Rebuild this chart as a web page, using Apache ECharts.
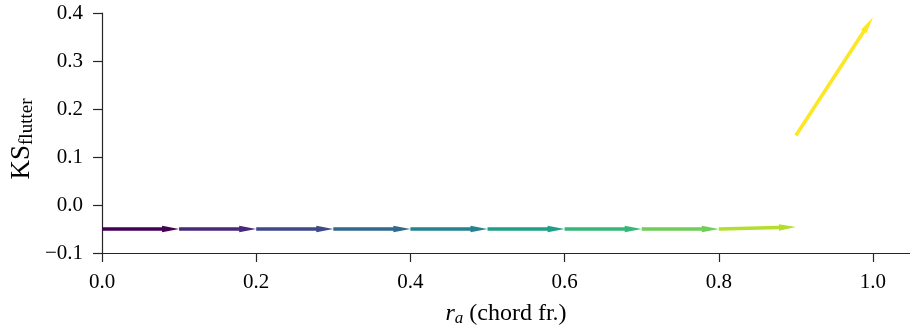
<!DOCTYPE html>
<html>
<head>
<meta charset="utf-8">
<script src="https://cdn.jsdelivr.net/npm/echarts@6/dist/echarts.min.js"></script>
<style>
html,body{margin:0;padding:0;background:#fff;}
#chart{width:910px;height:334px;}
</style>
</head>
<body>
<div id="chart"></div>
<script>
// Arrow (quiver) data
var arrowX = [0.0, 0.1, 0.2, 0.3, 0.4, 0.5, 0.6, 0.7, 0.8, 0.9];
var arrowY = [-0.05, -0.05, -0.05, -0.05, -0.05, -0.05, -0.05, -0.05, -0.05, 0.145];
var arrowU = [0.1, 0.1, 0.1, 0.1, 0.1, 0.1, 0.1, 0.1, 0.1, 0.1];
var arrowV = [0, 0, 0, 0, 0, 0, 0, 0, 0.004, 0.246];
var arrowColors = ['#440154', '#482878', '#3e4989', '#31688e', '#26828e',
                   '#1f9e89', '#35b779', '#6ece58', '#b5de2b', '#fde725'];
var xTicks = [0, 0.2, 0.4, 0.6, 0.8, 1.0];
var yTicks = [-0.1, 0, 0.1, 0.2, 0.3, 0.4];

var data = arrowX.map(function (x, i) {
  return [x, arrowY[i], arrowU[i], arrowV[i], i];
});

var chart = echarts.init(document.getElementById('chart'), null, {renderer: 'canvas'});
var font = '"Liberation Serif", "DejaVu Serif", serif';

function renderArrow(params, api) {
  var x0 = api.value(0), y0 = api.value(1), u = api.value(2), v = api.value(3);
  var idx = api.value(4);
  var p0 = api.coord([x0, y0]);
  var p1 = api.coord([x0 + u, y0 + v]);
  var dx = p1[0] - p0[0], dy = p1[1] - p0[1];
  var len = Math.sqrt(dx * dx + dy * dy);
  var ux = dx / len, uy = dy / len;
  var nx = -uy, ny = ux;
  var w = 3.6, hw = 6.5, hl = 17;
  var sx = p1[0] - ux * hl, sy = p1[1] - uy * hl;
  var pts = [
    [p0[0] + nx * w / 2, p0[1] + ny * w / 2],
    [sx + nx * w / 2, sy + ny * w / 2],
    [sx + nx * hw / 2, sy + ny * hw / 2],
    [p1[0], p1[1]],
    [sx - nx * hw / 2, sy - ny * hw / 2],
    [sx - nx * w / 2, sy - ny * w / 2],
    [p0[0] - nx * w / 2, p0[1] - ny * w / 2]
  ];
  return {
    type: 'polygon',
    shape: {points: pts},
    style: {fill: arrowColors[idx]}
  };
}

chart.setOption({
  animation: false,
  backgroundColor: '#fff',
  grid: {left: 102, right: 0, top: 13, bottom: 81, containLabel: false, outerBoundsMode: 'none'},
  xAxis: {
    type: 'value', min: 0, max: 1.048, interval: 0.2,
    name: '{it|r}{sub|a} (chord fr.)',
    nameLocation: 'middle', nameGap: 47, nameMoveOverlap: false,
    nameTextStyle: {
      fontFamily: font, fontSize: 24, color: '#000',
      rich: {
        it: {fontFamily: font, fontSize: 24, fontStyle: 'italic', color: '#000'},
        sub: {fontFamily: font, fontSize: 17, fontStyle: 'italic', color: '#000', verticalAlign: 'bottom', padding: [10, 0, 0, 0]}
      }
    },
    axisLine: {show: true, onZero: false, lineStyle: {color: '#262626', width: 1.2}},
    axisTick: {show: true, length: 9, customValues: xTicks, lineStyle: {color: '#262626', width: 1.2}},
    axisLabel: {
      customValues: xTicks, margin: 19,
      fontFamily: font, fontSize: 21, color: '#000',
      formatter: function (v) { return v.toFixed(1); }
    },
    splitLine: {show: false}
  },
  yAxis: {
    type: 'value', min: -0.1, max: 0.4, interval: 0.1,
    name: '{n|KS}{sub|flutter}',
    nameLocation: 'middle', nameGap: 65, nameRotate: 90, nameMoveOverlap: false,
    nameTextStyle: {
      fontFamily: font, fontSize: 27, color: '#000',
      padding: [0, 12, 0, 0],
      rich: {
        n: {fontFamily: font, fontSize: 27, color: '#000'},
        sub: {fontFamily: font, fontSize: 19, color: '#000', verticalAlign: 'bottom', padding: [12, 0, 0, 0]}
      }
    },
    axisLine: {show: true, onZero: false, lineStyle: {color: '#262626', width: 1.2}},
    axisTick: {show: true, length: 9, customValues: yTicks, lineStyle: {color: '#262626', width: 1.2}},
    axisLabel: {
      customValues: yTicks, margin: 19,
      fontFamily: font, fontSize: 21, color: '#000',
      formatter: function (v) {
        var s = Math.abs(v).toFixed(1);
        return v < -1e-9 ? '\u2212' + s : s;
      }
    },
    splitLine: {show: false}
  },
  series: [{
    type: 'custom',
    renderItem: renderArrow,
    encode: {x: 0, y: 1},
    data: data,
    clip: false
  }]
});
</script>
</body>
</html>
